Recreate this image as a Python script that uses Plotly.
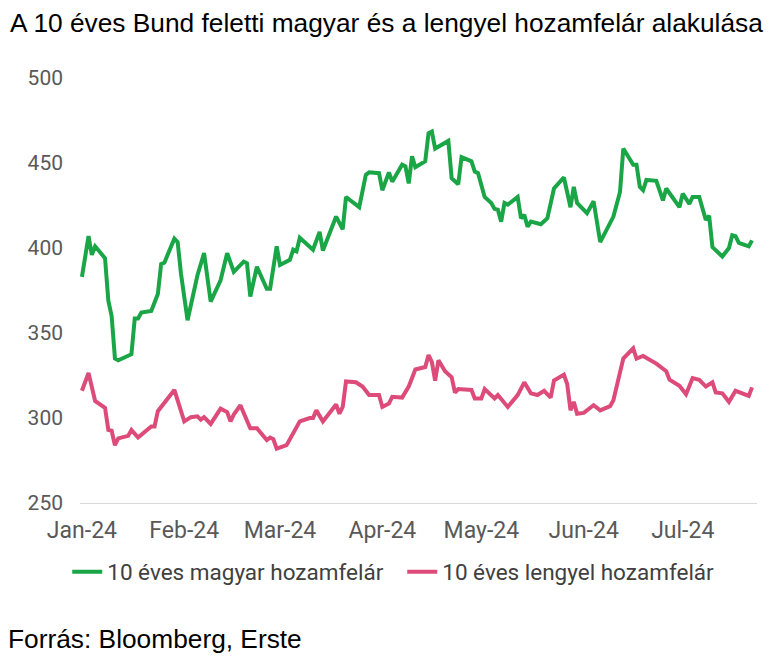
import plotly.graph_objects as go

title_text = "A 10 éves Bund feletti magyar és a lengyel hozamfelár alakulása"
source_text = "Forrás: Bloomberg, Erste"
series_names = ["10 éves magyar hozamfelár", "10 éves lengyel hozamfelár"]

hu_dates = [
    "2024-01-01", "2024-01-03", "2024-01-04", "2024-01-05", "2024-01-08", "2024-01-09",
    "2024-01-10", "2024-01-11", "2024-01-12", "2024-01-16", "2024-01-17", "2024-01-18",
    "2024-01-19", "2024-01-22", "2024-01-24", "2024-01-25", "2024-01-26", "2024-01-29",
    "2024-01-30", "2024-01-31", "2024-02-02", "2024-02-05", "2024-02-07", "2024-02-09",
    "2024-02-12", "2024-02-14", "2024-02-16", "2024-02-19", "2024-02-20", "2024-02-21",
    "2024-02-23", "2024-02-26", "2024-02-27", "2024-02-29", "2024-03-01", "2024-03-04",
    "2024-03-05", "2024-03-06", "2024-03-07", "2024-03-11", "2024-03-13", "2024-03-14",
    "2024-03-18", "2024-03-20", "2024-03-21", "2024-03-25", "2024-03-27", "2024-03-28",
    "2024-03-31", "2024-04-01", "2024-04-03", "2024-04-04", "2024-04-07", "2024-04-08",
    "2024-04-09", "2024-04-10", "2024-04-11", "2024-04-14", "2024-04-15", "2024-04-16",
    "2024-04-17", "2024-04-21", "2024-04-22", "2024-04-24", "2024-04-25", "2024-04-28",
    "2024-04-29", "2024-04-30", "2024-05-02", "2024-05-04", "2024-05-05", "2024-05-06",
    "2024-05-07", "2024-05-08", "2024-05-09", "2024-05-12", "2024-05-13", "2024-05-14",
    "2024-05-15", "2024-05-16", "2024-05-19", "2024-05-21", "2024-05-23", "2024-05-26",
    "2024-05-28", "2024-05-29", "2024-05-30", "2024-06-02", "2024-06-04", "2024-06-06",
    "2024-06-10", "2024-06-12", "2024-06-13", "2024-06-16", "2024-06-17", "2024-06-18",
    "2024-06-19", "2024-06-20", "2024-06-23", "2024-06-25", "2024-06-26", "2024-06-30",
    "2024-07-01", "2024-07-03", "2024-07-04", "2024-07-06", "2024-07-08", "2024-07-09",
    "2024-07-10", "2024-07-13", "2024-07-15", "2024-07-16", "2024-07-17", "2024-07-18",
    "2024-07-21", "2024-07-22",
]
hu_values = [
    383, 407, 396, 401, 394, 369,
    360, 335, 334, 337.5, 358.5, 358.5,
    362, 363, 373, 390.5, 391.5, 405.5,
    403.5, 385, 357.5, 384, 397, 368.5,
    381, 397, 386, 392, 391, 371.5,
    389, 376, 376, 401, 390, 393,
    399, 398, 406, 399, 409.5, 398.5,
    418.5, 411, 430, 424, 443, 444.5,
    444, 434, 444.5, 439, 449, 448,
    438, 454, 447.5, 451, 467.5, 468.5,
    458.5, 463, 441, 437.5, 453.5, 451,
    445, 444, 430, 426.5, 423, 422.5,
    415.5, 426.5, 425.5, 430, 417.5, 419.5,
    412.5, 415.5, 414, 417.5, 435, 441.5,
    424, 436, 426.5, 420.5, 427.5, 403.5,
    418.5, 433, 458.5, 449, 449, 436,
    434, 440, 439.5, 428, 435, 424,
    432, 426, 430, 430, 416.5, 419,
    400.5, 395, 400, 407.5, 407, 403,
    401, 404.5,
]

pl_dates = [
    "2024-01-01", "2024-01-03", "2024-01-05", "2024-01-08", "2024-01-09", "2024-01-10",
    "2024-01-11", "2024-01-12", "2024-01-15", "2024-01-16", "2024-01-18", "2024-01-20",
    "2024-01-22", "2024-01-23", "2024-01-24", "2024-01-29", "2024-02-01", "2024-02-03",
    "2024-02-05", "2024-02-06", "2024-02-07", "2024-02-09", "2024-02-12", "2024-02-14",
    "2024-02-15", "2024-02-16", "2024-02-18", "2024-02-21", "2024-02-23", "2024-02-26",
    "2024-02-27", "2024-02-28", "2024-02-29", "2024-03-03", "2024-03-07", "2024-03-10",
    "2024-03-11", "2024-03-12", "2024-03-14", "2024-03-18", "2024-03-19", "2024-03-20",
    "2024-03-21", "2024-03-24", "2024-03-26", "2024-03-28", "2024-03-31", "2024-04-01",
    "2024-04-03", "2024-04-04", "2024-04-07", "2024-04-09", "2024-04-11", "2024-04-14",
    "2024-04-15", "2024-04-16", "2024-04-17", "2024-04-18", "2024-04-20", "2024-04-22",
    "2024-04-23", "2024-04-24", "2024-04-28", "2024-04-29", "2024-05-01", "2024-05-02",
    "2024-05-05", "2024-05-06", "2024-05-09", "2024-05-12", "2024-05-14", "2024-05-16",
    "2024-05-18", "2024-05-20", "2024-05-22", "2024-05-23", "2024-05-26", "2024-05-27",
    "2024-05-28", "2024-05-29", "2024-05-30", "2024-06-01", "2024-06-03", "2024-06-04",
    "2024-06-06", "2024-06-09", "2024-06-10", "2024-06-13", "2024-06-16", "2024-06-17",
    "2024-06-19", "2024-06-23", "2024-06-26", "2024-06-27", "2024-06-30", "2024-07-02",
    "2024-07-04", "2024-07-06", "2024-07-08", "2024-07-10", "2024-07-11", "2024-07-13",
    "2024-07-15", "2024-07-17", "2024-07-21", "2024-07-22",
]
pl_values = [
    316, 326.5, 310, 306, 293, 292.5,
    284, 288, 289.5, 293, 288.5, 292,
    295, 295, 304, 316.5, 298, 300.5,
    301, 299, 300.5, 296.5, 305.5, 303.5,
    298, 302, 307.5, 294, 294, 287,
    288.5, 287.5, 282, 284, 298, 300,
    300, 304.5, 298, 308, 302.5, 306.5,
    321.5, 321, 318.5, 313.5, 313.5, 306.5,
    308.5, 312.5, 312, 318.5, 328.5, 330,
    337, 333, 322, 334, 327.5, 324,
    315, 317, 316.5, 311.5, 311.5, 317,
    311.5, 313.5, 306.5, 313.5, 321, 314.5,
    313.5, 316, 312, 322, 325.5, 320,
    304.5, 309.5, 302.5, 303, 306.5, 307.5,
    304.5, 307, 310.5, 335, 341, 335,
    336.5, 332, 327.5, 322.5, 319, 314,
    323.5, 322.5, 318.5, 321, 315, 314.5,
    309.5, 316, 313, 318,
]

y_ticks = [250, 300, 350, 400, 450, 500]
x_ticks = ["2024-01-01", "2024-02-01", "2024-03-01", "2024-04-01",
           "2024-05-01", "2024-06-01", "2024-07-01"]
x_tick_labels = ["Jan-24", "Feb-24", "Mar-24", "Apr-24", "May-24", "Jun-24", "Jul-24"]

GREEN = "#1aa646"
PINK = "#dd4b7a"
FONT_SANS = "Roboto, Inter, sans-serif"
FONT_ARIAL = "Liberation Sans, Arial, sans-serif"

fig = go.Figure()
fig.add_trace(go.Scatter(x=hu_dates, y=hu_values, mode="lines", name=series_names[0],
                         line=dict(color=GREEN, width=4)))
fig.add_trace(go.Scatter(x=pl_dates, y=pl_values, mode="lines", name=series_names[1],
                         line=dict(color=PINK, width=4)))

fig.update_layout(
    width=770, height=656,
    margin=dict(l=72, r=21, t=70, b=161, autoexpand=False),
    plot_bgcolor="white", paper_bgcolor="white",
    title=dict(text=title_text, x=0.0026, xanchor="left", xref="container",
               y=0.9771, yanchor="middle", yref="container",
               font=dict(family=FONT_ARIAL, size=26.3, color="#000000")),
    showlegend=True,
    legend=dict(orientation="h", xref="container", x=0.512, xanchor="center",
                yref="container", y=0.1402, yanchor="middle",
                font=dict(family=FONT_SANS, size=22.5, color="#404040"),
                itemwidth=30, tracegroupgap=0, bgcolor="rgba(0,0,0,0)",
                entrywidth=290, entrywidthmode="pixels"),
    xaxis=dict(type="date", range=["2023-12-31 10:00", "2024-07-23 12:00"],
               tickvals=x_ticks, ticktext=x_tick_labels,
               tickfont=dict(family=FONT_SANS, size=23, color="#595959"),
               showgrid=False, zeroline=False, showline=True, linecolor="#d9d9d9",
               linewidth=1, ticks="", ticklabelstandoff=6, automargin=False),
    yaxis=dict(range=[250, 500], tickvals=y_ticks,
               tickfont=dict(family=FONT_SANS, size=21, color="#595959"),
               showgrid=False, zeroline=False, showline=False, ticks="",
               ticklabelstandoff=16, automargin=False),
    annotations=[dict(text=source_text, xref="paper", yref="paper",
                      x=-0.1093, y=-0.32, xanchor="left", yanchor="middle",
                      showarrow=False,
                      font=dict(family=FONT_ARIAL, size=26.3, color="#000000"))],
)

fig.write_html("out.html")
